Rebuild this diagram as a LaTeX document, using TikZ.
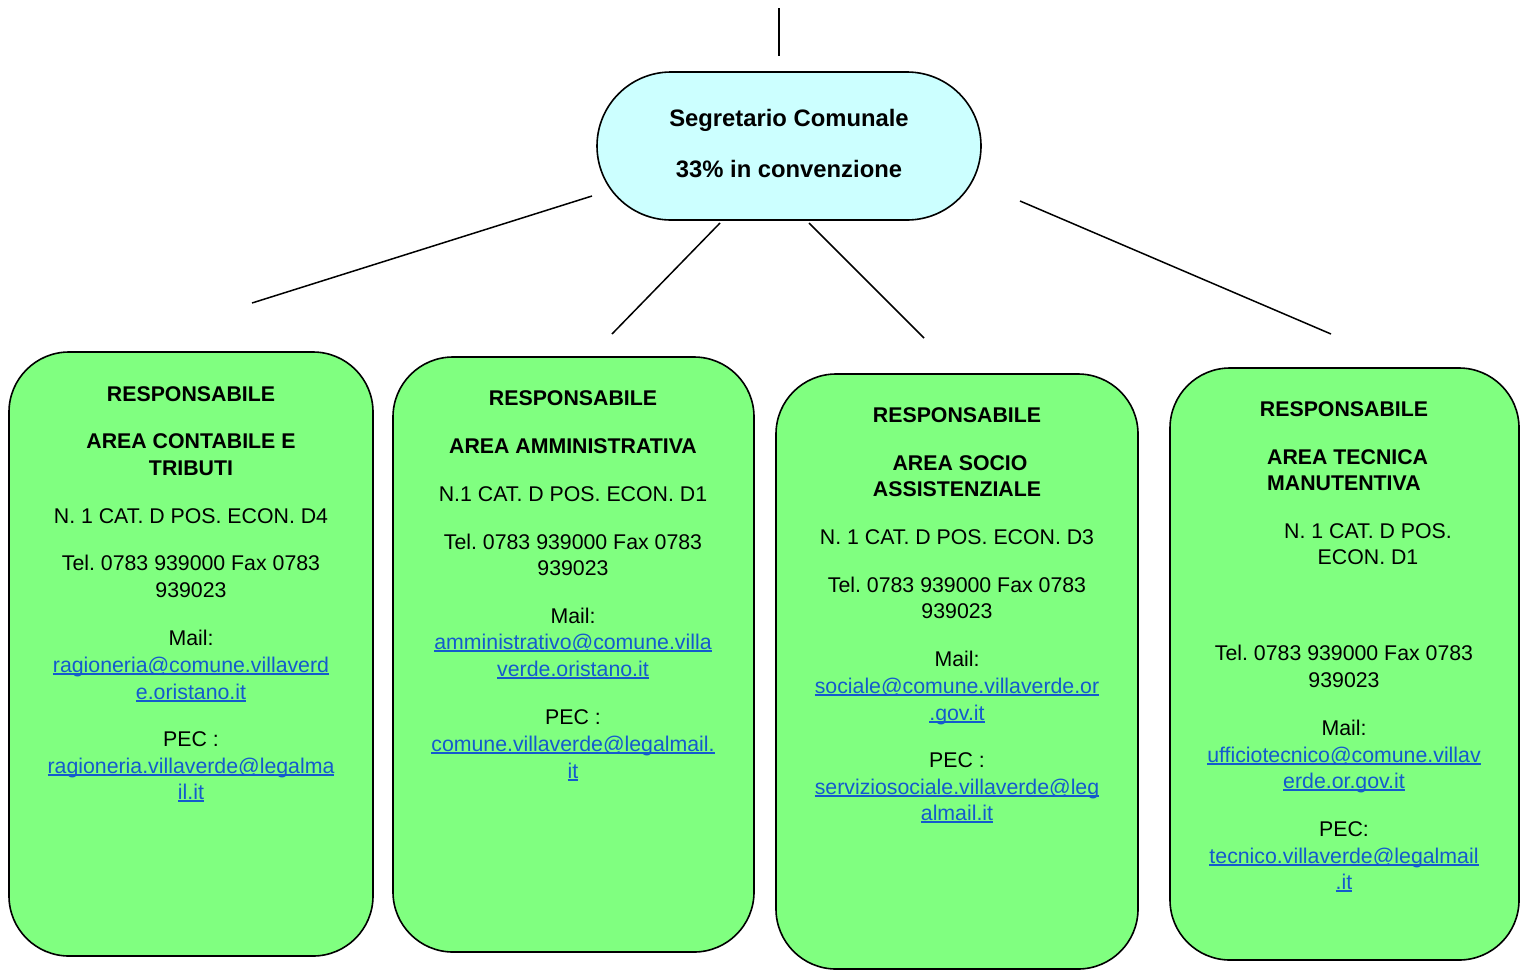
\documentclass[tikz,border=0pt]{standalone}
\usepackage{fontspec}
\setmainfont{Liberation Sans}
\definecolor{boxgreen}{RGB}{128,255,128}
\definecolor{topcyan}{RGB}{204,255,255}
\definecolor{linkblue}{RGB}{20,90,205}
\newcommand{\fsz}{\fontsize{21.3}{26.5}\selectfont\frenchspacing}
\newcommand{\tsz}{\fontsize{23.8}{28}\selectfont\frenchspacing}
\tikzset{
  gbox/.style={draw=black, line width=1.6pt, fill=boxgreen, rounded corners=60pt, inner sep=0pt},
  topbox/.style={draw=black, line width=1.6pt, fill=topcyan, rounded corners=74pt, inner sep=0pt},
  conn/.style={draw=black, line width=1.5pt},
  t/.style={anchor=base, inner sep=0pt, font=\fsz},
  bt/.style={anchor=base, inner sep=0pt, font=\fsz\bfseries},
  tt/.style={anchor=base, inner sep=0pt, font=\tsz\bfseries},
  lk/.style={anchor=base, inner sep=0pt, font=\fsz, text=linkblue},
}
\newcommand{\lnk}[1]{\setbox0\hbox{#1}\rlap{\rule[-2.6pt]{\wd0}{1.2pt}}\box0}
\begin{document}
\begin{tikzpicture}[x=1pt,y=-1pt]
\useasboundingbox (0,0) rectangle (1525,970);

% top node
\node[topbox, minimum width=384pt, minimum height=148pt] (top) at (789,146) {};
\node[tt] (top1) at (789,126) {Segretario Comunale};
\node[tt] (top2) at (789,177) {33\% in convenzione};

% boxes
\node[gbox, minimum width=364pt, minimum height=604pt] (b1) at (191,654) {};
\node[gbox, minimum width=361pt, minimum height=595pt] (b2) at (573.5,654.5) {};
\node[gbox, minimum width=362pt, minimum height=595pt] (b3) at (957,671.5) {};
\node[gbox, minimum width=349pt, minimum height=592pt] (b4) at (1344.5,664) {};

% connectors
\coordinate (v1) at (779,8);
\coordinate (v2) at (779,56);
\draw[conn] (v1) -- (v2);
\coordinate (s1) at (592,196);
\coordinate (e1) at (252,303);
\draw[conn] (s1) -- (e1);
\coordinate (s2) at (720,223);
\coordinate (e2) at (612,334);
\draw[conn] (s2) -- (e2);
\coordinate (s3) at (809,223);
\coordinate (e3) at (924,338);
\draw[conn] (s3) -- (e3);
\coordinate (s4) at (1020,201);
\coordinate (e4) at (1331,334);
\draw[conn] (s4) -- (e4);

% box 1 text
\node[bt] (a1) at (191,401) {RESPONSABILE};
\node[bt] (a2) at (191,448) {AREA CONTABILE E};
\node[bt] (a3) at (191,475) {TRIBUTI};
\node[t] (a4) at (191,523) {N. 1 CAT. D POS. ECON. D4};
\node[t] (a5) at (191,570) {Tel. 0783 939000 Fax 0783};
\node[t] (a6) at (191,597) {939023};
\node[t] (a7) at (191,645) {Mail:};
\node[lk] (a8) at (191,672) {\lnk{ragioneria@comune.villaverd}};
\node[lk] (a9) at (191,699) {\lnk{e.oristano.it}};
\node[t] (a10) at (191,746) {PEC :};
\node[lk] (a11) at (191,773) {\lnk{ragioneria.villaverde@legalma}};
\node[lk] (a12) at (191,799) {\lnk{il.it}};

% box 2 text
\node[bt] (c1) at (573,405) {RESPONSABILE};
\node[bt] (c2) at (573,453) {AREA AMMINISTRATIVA};
\node[t] (c3) at (573,501) {N.1 CAT. D POS. ECON. D1};
\node[t] (c4) at (573,549) {Tel. 0783 939000 Fax 0783};
\node[t] (c5) at (573,575) {939023};
\node[t] (c6) at (573,623) {Mail:};
\node[lk] (c7) at (573,649) {\lnk{amministrativo@comune.villa}};
\node[lk] (c8) at (573,676) {\lnk{verde.oristano.it}};
\node[t] (c9) at (573,724) {PEC :};
\node[lk] (c10) at (573,751) {\lnk{comune.villaverde@legalmail.}};
\node[lk] (c11) at (573,778) {\lnk{it}};

% box 3 text
\node[bt] (d1) at (957,422) {RESPONSABILE};
\node[bt] (d2) at (960,470) {AREA SOCIO};
\node[bt] (d3) at (957,496) {ASSISTENZIALE};
\node[t] (d4) at (957,544) {N. 1 CAT. D POS. ECON. D3};
\node[t] (d5) at (957,592) {Tel. 0783 939000 Fax 0783};
\node[t] (d6) at (957,618) {939023};
\node[t] (d7) at (957,666) {Mail:};
\node[lk] (d8) at (957,693) {\lnk{sociale@comune.villaverde.or}};
\node[lk] (d9) at (957,720) {\lnk{.gov.it}};
\node[t] (d10) at (957,767) {PEC :};
\node[lk] (d11) at (957,794) {\lnk{serviziosociale.villaverde@leg}};
\node[lk] (d12) at (957,820) {\lnk{almail.it}};

% box 4 text
\node[bt] (f1) at (1344,416) {RESPONSABILE};
\node[bt, anchor=base west] (f2) at (1267,464) {AREA TECNICA};
\node[bt, anchor=base west] (f3) at (1267,490) {MANUTENTIVA};
\node[t] (f4) at (1368,538) {N. 1 CAT. D POS.};
\node[t] (f5) at (1368,564) {ECON. D1};
\node[t] (f6) at (1344,660) {Tel. 0783 939000 Fax 0783};
\node[t] (f7) at (1344,687) {939023};
\node[t] (f8) at (1344,735) {Mail:};
\node[lk] (f9) at (1344,762) {\lnk{ufficiotecnico@comune.villav}};
\node[lk] (f10) at (1344,788) {\lnk{erde.or.gov.it}};
\node[t] (f11) at (1344,836) {PEC:};
\node[lk] (f12) at (1344,863) {\lnk{tecnico.villaverde@legalmail}};
\node[lk] (f13) at (1344,889) {\lnk{.it}};
\end{tikzpicture}
\end{document}
